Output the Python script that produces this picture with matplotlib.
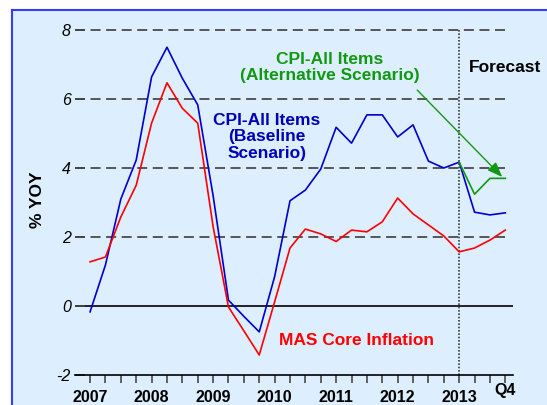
import matplotlib
matplotlib.use("Agg")
import matplotlib.pyplot as plt
from matplotlib.lines import Line2D
from matplotlib.patches import Rectangle

plt.rcParams['font.family'] = ['Liberation Sans', 'DejaVu Sans']
plt.rcParams['lines.scale_dashes'] = False

# Quarterly series, 2007Q1 .. 2013Q4 (index 0 .. 27)
quarters = list(range(28))
cpi_baseline = [-0.17, 1.19, 3.1, 4.23, 6.64, 7.5, 6.6, 5.83,
                3.2, 0.17, -0.3, -0.75, 0.85, 3.05, 3.36, 3.97,
                5.18, 4.72, 5.54, 5.54, 4.9, 5.25, 4.2, 4.0,
                4.17, 2.72, 2.64, 2.7]
core_inflation = [1.28, 1.42, 2.58, 3.5, 5.3, 6.47, 5.73, 5.3,
                  2.3, -0.03, -0.72, -1.42, 0.12, 1.68, 2.23, 2.09,
                  1.87, 2.2, 2.15, 2.44, 3.13, 2.67, 2.35, 2.03,
                  1.57, 1.68, 1.91, 2.2]
alt_quarters = [24, 25, 26, 27]
cpi_alternative = [4.17, 3.24, 3.7, 3.7]

year_labels = ['2007', '2008', '2009', '2010', '2011', '2012', '2013']
year_ticks = [0, 4, 8, 12, 16, 20, 24]
y_ticks = [-2, 0, 2, 4, 6, 8]
forecast_start = 24

W, H = 547, 405
fig = plt.figure(figsize=(W / 100, H / 100), dpi=100, facecolor='white')

# light-blue panel with a blue border on the left and top
bg = '#DDEEFE'
fig.patches.append(Rectangle((12 / W, -0.05), 1.1, (1 - 10 / H) + 0.05,
                             transform=fig.transFigure, facecolor=bg,
                             edgecolor='none', zorder=-10))
fig.lines.append(Line2D([12 / W, 12 / W], [-0.05, 1 - 10 / H], transform=fig.transFigure,
                        color='#3A3AFF', lw=1.5, zorder=-9))
fig.lines.append(Line2D([12 / W, 1.05], [1 - 10 / H, 1 - 10 / H], transform=fig.transFigure,
                        color='#3A3AFF', lw=1.5, zorder=-9))

ax = fig.add_axes([75 / W, 1 - 375 / H, (513 - 75) / W, (375 - 12.75) / H])
ax.set_zorder(5)
ax.set_facecolor('none')
ax.set_xlim(-0.98, 27.5)
ax.set_ylim(-2, 8.5)
for s in ['left', 'right', 'top']:
    ax.spines[s].set_visible(False)
ax.spines['bottom'].set_color('black')
ax.spines['bottom'].set_linewidth(1.2)

# horizontal grid
for v in [2, 4, 6, 8]:
    ax.plot([-0.98, 27.05], [v, v], color='#555555', lw=1.4,
            dashes=(7.2, 4.0), zorder=1)
ax.axhline(0, color='black', lw=1.2, zorder=1)

# forecast divider
ax.plot([forecast_start, forecast_start], [-2, 8], color='#555555', lw=1.4,
        dashes=(1.2, 1.2), zorder=1)

ax.plot(quarters, cpi_baseline, color='#0000CC', lw=1.2, zorder=3)
ax.plot(quarters, core_inflation, color='#FF0000', lw=1.2, zorder=3)
ax.plot(alt_quarters, cpi_alternative, color='#129912', lw=1.2, zorder=3)

# ticks
ax.set_xticks(quarters)
ax.set_xticklabels(['' for _ in quarters])
ax.tick_params(axis='x', direction='out', length=6, width=1.3, color='#555555')
ax.set_yticks(y_ticks)
ax.set_yticklabels([str(v) for v in y_ticks], fontstyle='italic', fontsize=11.5)
ax.tick_params(axis='y', direction='in', length=7, width=1.3, color='#444444', pad=3)

for t, lab in zip(year_ticks, year_labels):
    ax.text(t, -2.65, lab, ha='center', va='center', fontsize=11.5,
            fontweight='bold', clip_on=False)
ax.text(27, -2.45, 'Q4', ha='center', va='center', fontsize=11.5, fontweight='bold',
        clip_on=False)

fig.text(37 / W, 1 - 200 / H, '% YOY', rotation=90, ha='center', va='center',
         fontsize=12.5, fontweight='bold')

ax.text(15.6, 6.91, 'CPI-All Items\n(Alternative Scenario)', color='#129912',
        ha='center', va='center', fontsize=12.5, fontweight='bold', linespacing=1.1)
ax.text(11.5, 4.9, 'CPI-All Items\n(Baseline\nScenario)', color='#0000B8',
        ha='center', va='center', fontsize=12.5, fontweight='bold', linespacing=1.1)
ax.text(24.6, 6.9, 'Forecast', color='black', ha='left', va='center',
        fontsize=12.5, fontweight='bold')
ax.text(12.3, -1.01, 'MAS Core Inflation', color='#FF0000', ha='left', va='center',
        fontsize=12.5, fontweight='bold')

ax.annotate('', xy=(26.8, 3.74), xytext=(21.27, 6.26),
            arrowprops=dict(arrowstyle='-|>,head_length=0.9,head_width=0.35',
                            color='#129912', lw=1.0, shrinkA=0, shrinkB=0),
            zorder=4)

fig.savefig('out.png', dpi=100, facecolor='white')
